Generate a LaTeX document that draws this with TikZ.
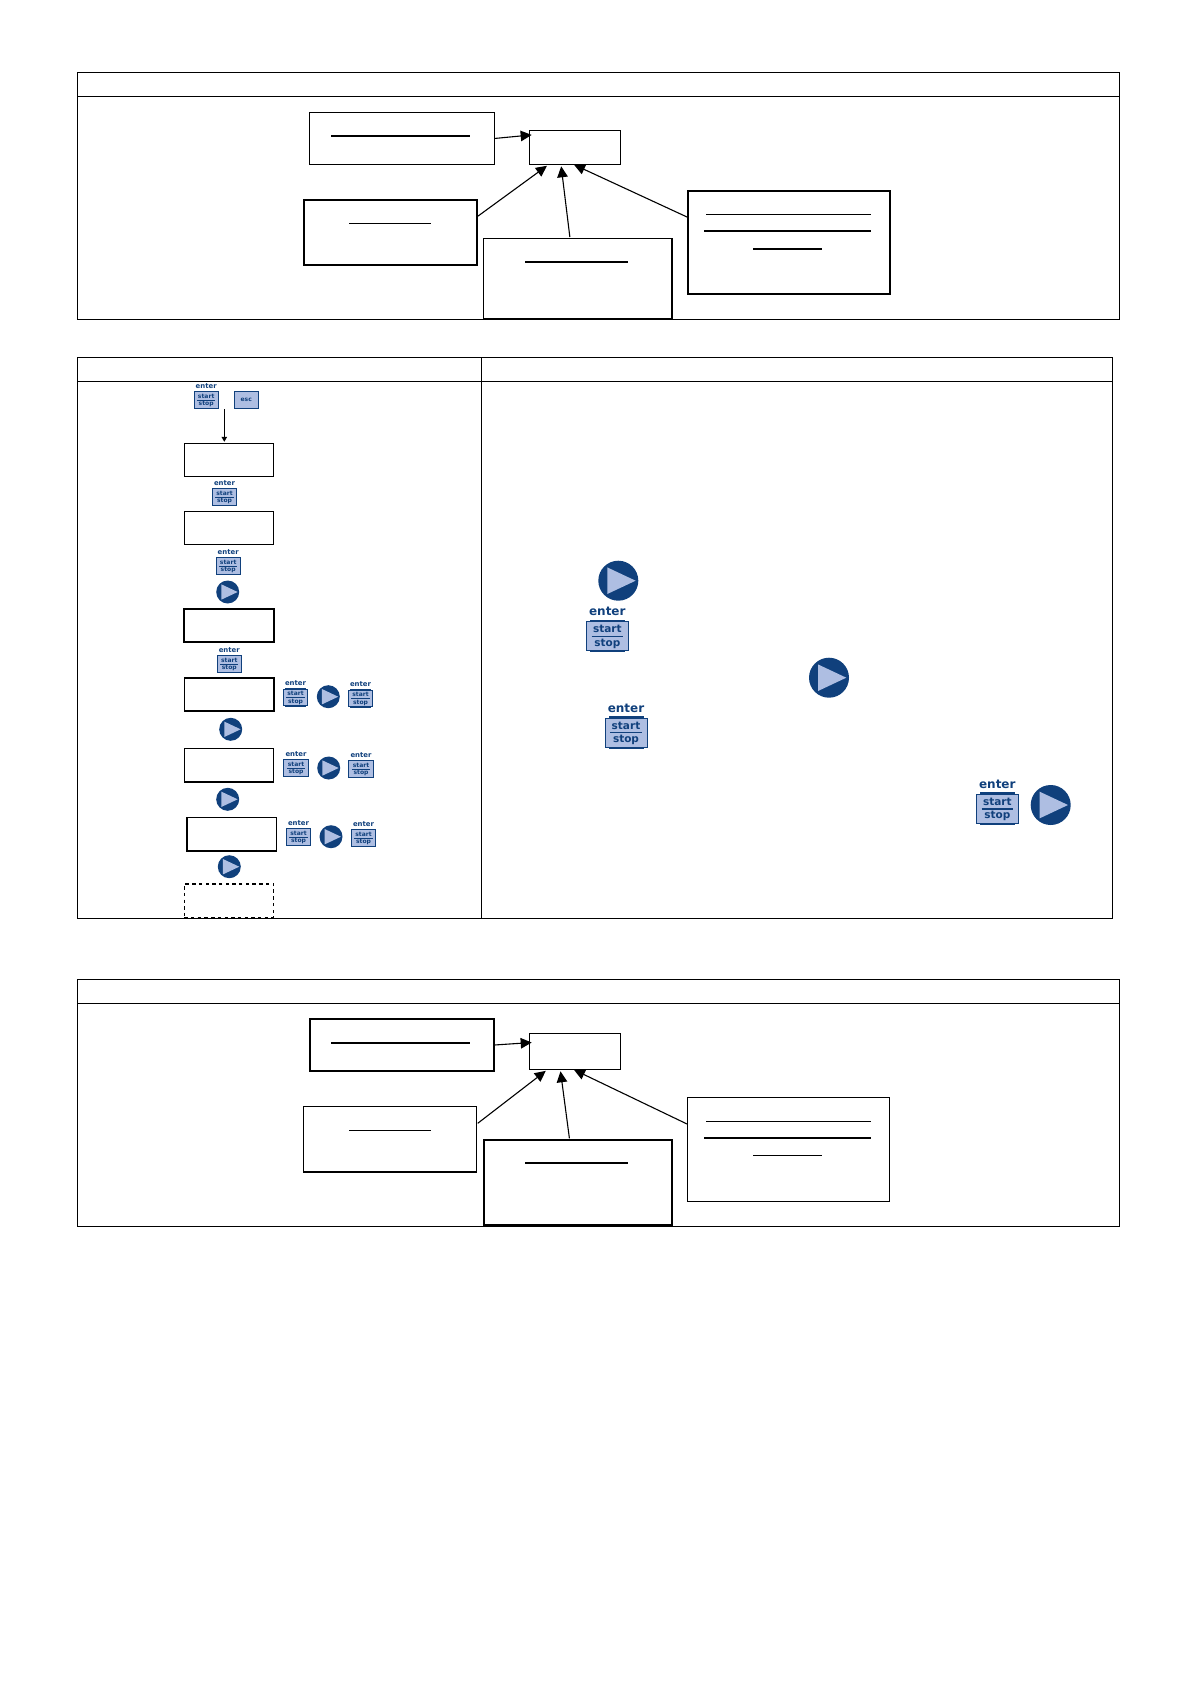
\documentclass[tikz,border=0pt]{standalone}
\usepackage{fontspec}
\setmainfont{DejaVu Sans}
\usetikzlibrary{arrows.meta, positioning}
\definecolor{KeyBlue}{HTML}{10407C}
\definecolor{KeyFill}{HTML}{AEBEE2}

\tikzset{
  cell/.style={rectangle, draw=black, line width=1pt, outer sep=0pt, inner sep=0pt},
  box/.style={rectangle, draw=black, line width=1.3pt, outer sep=0pt, inner sep=0pt},
  heavybox/.style={box, line width=1.8pt},
  disp/.style={box, minimum width=89.4pt, minimum height=33.4pt},
  arr/.style={-{Triangle[length=11pt, width=10.5pt]}, line width=1.1pt, black},
  smallarr/.style={-{Triangle[length=5pt, width=5.5pt]}, line width=1pt, black},
  thinbar/.style={line width=0.8pt, black},
  thickbar/.style={line width=1.8pt, black},
  keytext/.style={anchor=base, inner sep=0pt, text=KeyBlue, transform shape, font=\bfseries\fontsize{10.5}{10.5}\selectfont},
  keysmall/.style={scale=0.575},
  pics/startkey/.style={code={
    \node[rectangle, draw=KeyBlue, fill=KeyFill, line width=1pt, minimum width=42pt, minimum height=29pt, transform shape] (-body) at (0,0) {};
    \fill[KeyBlue] (-17.5,-16.4) rectangle (17.5,-14.5);
    \fill[KeyBlue] (-17.5,14.5) rectangle (17.5,16.4);
    \draw[KeyBlue, line width=1.3pt] (-15.7,0.3) -- (15.7,0.3);
    \node[keytext] (-enter) at (0,-20.3) {\fontsize{12}{12}\selectfont enter};
    \node[keytext] (-start) at (0,-3.3) {start};
    \node[keytext] (-stop) at (0,10) {stop};
  }},
  pics/esckey/.style={code={
    \node[rectangle, draw=KeyBlue, fill=KeyFill, line width=1pt, minimum width=42pt, minimum height=29pt, transform shape] (-body) at (0,0) {};
    \fill[KeyBlue] (-17.5,14.5) rectangle (17.5,16.4);
    \node[keytext] (-esc) at (0,3) {esc};
  }},
  pics/playkey/.style={code={
    \node[circle, fill=KeyBlue, minimum size=40pt, inner sep=0pt, transform shape] (-disc) at (0,0) {};
    \fill[KeyFill] (-11,-13.3) -- (17.3,0) -- (-11,13.3) -- cycle;
  }}
}

\begin{document}
\begin{tikzpicture}[x=1pt, y=-1pt]
  \useasboundingbox (0,0) rectangle (1190,1684);

  % Top table
  \node[cell, anchor=north west, minimum width=1042.4pt, minimum height=24pt] (headA) at (77.3,72.3) {};
  \node[cell, below=0pt of headA, minimum width=1042.4pt, minimum height=223pt] (bodyA) {};

  \node[box, minimum width=184.6pt, minimum height=51.6pt] (sourceA) at (402,138.5) {};
  \node[cell, minimum width=91pt, minimum height=34pt] (centreA) at (575.2,147.3) {};
  \node[heavybox, minimum width=173pt, minimum height=65.3pt] (leftA) at (390.2,232.3) {};
  \node[box, line width=1.5pt, minimum width=188.3pt, minimum height=80.7pt] (midA) at (577.85,278.65) {};
  \node[heavybox, minimum width=202pt, minimum height=103.6pt] (rightA) at (788.7,242.5) {};

  \draw[thickbar] (331,135.7) -- (470,135.7);
  \draw[thinbar] (349,223.3) -- (431,223.3);
  \draw[thickbar] (525,262) -- (628,262);
  \draw[thinbar] (706,214.3) -- (871,214.3);
  \draw[thickbar] (704,231) -- (871,231);
  \draw[thickbar] (753,249) -- (822,249);

  \draw[arr, shorten >=-2pt] (sourceA.east) -- (centreA.165);
  \draw[arr, shorten <=1.3pt, shorten >=2.5pt] (leftA.10) -- (centreA.213);
  \draw[arr, shorten <=1.3pt, shorten >=2pt] (midA.101) -- (centreA.230);
  \draw[arr, shorten >=1pt] (rightA.166) -- (centreA.263);

  % Middle table
  \node[cell, anchor=north west, minimum width=403.7pt, minimum height=24pt] (headB) at (77.3,357.3) {};
  \node[cell, right=0pt of headB, minimum width=631.5pt, minimum height=24pt] (headC) {};
  \node[cell, below=0pt of headB, minimum width=403.7pt, minimum height=537pt] (bodyB) {};
  \node[cell, below=0pt of headC, minimum width=631.5pt, minimum height=537pt] (bodyC) {};

  \node[disp] (disp1) at (229,460) {};
  \node[disp, below=34.6pt of disp1] (disp2) {};
  \node[disp, heavybox, below=64pt of disp2] (disp3) {};
  \node[disp, line width=1.6pt, below=35.7pt of disp3] (disp4) {};
  \node[disp, below=37.3pt of disp4] (disp5) {};
  \node[disp, line width=1.4pt, below=35.6pt of disp5, xshift=2.6pt] (disp6) {};
  \node[disp, dash pattern=on 3.4pt off 3.3pt, line width=1.3pt, below=33pt of disp6, xshift=-2.6pt] (disp7) {};

  \pic[keysmall] (key1) at (206.2,400) {startkey};
  \pic[keysmall] (esc1) at (246.2,400) {esckey};
  \coordinate (keytail) at (224.3,409);
  \draw[smallarr, shorten >=1.5pt] (keytail) -- (keytail |- disp1.north);

  \pic[keysmall] (key2) at (224.5,497) {startkey};
  \pic[keysmall] (key3) at (228.2,566) {startkey};
  \pic[keysmall] (play1) at (227.7,592) {playkey};
  \pic[keysmall] (key4) at (229.3,664) {startkey};

  \pic[keysmall] (key5) at (295.5,697.5) {startkey};
  \pic[keysmall] (play2) at (328.3,696.7) {playkey};
  \pic[keysmall] (key6) at (360.5,698.5) {startkey};
  \pic[keysmall] (play3) at (230.7,729.3) {playkey};

  \pic[keysmall] (key7) at (296,768) {startkey};
  \pic[keysmall] (play4) at (328.7,768) {playkey};
  \pic[keysmall] (key8) at (361,769) {startkey};
  \pic[keysmall] (play5) at (227.7,799.3) {playkey};

  \pic[keysmall] (key9) at (298.5,837) {startkey};
  \pic[keysmall] (play6) at (331,836.7) {playkey};
  \pic[keysmall] (key10) at (363.5,838) {startkey};
  \pic[keysmall] (play7) at (229.3,866.7) {playkey};

  \pic (play8) at (618.3,580.7) {playkey};
  \pic (key11) at (607.3,636) {startkey};
  \pic (play9) at (829,677.7) {playkey};
  \pic (key12) at (626,732.5) {startkey};
  \pic (key13) at (997.3,808.8) {startkey};
  \pic (play10) at (1050.7,805) {playkey};

  % Bottom table
  \node[cell, anchor=north west, minimum width=1042.4pt, minimum height=24pt] (headD) at (77.3,979.3) {};
  \node[cell, below=0pt of headD, minimum width=1042.4pt, minimum height=222.7pt] (bodyD) {};

  \node[heavybox, minimum width=184.6pt, minimum height=52pt] (sourceD) at (402,1045) {};
  \node[box, minimum width=91pt, minimum height=35.6pt] (centreD) at (575.2,1051.5) {};
  \node[box, minimum width=173pt, minimum height=65.3pt] (leftD) at (390.2,1139.35) {};
  \node[heavybox, minimum width=188.3pt, minimum height=85pt] (midD) at (577.85,1182.2) {};
  \node[box, line width=1.5pt, minimum width=202pt, minimum height=103.6pt] (rightD) at (788.7,1149.5) {};

  \draw[thickbar] (331,1043) -- (470,1043);
  \draw[thinbar] (349,1130.3) -- (431,1130.3);
  \draw[thickbar] (525,1162.7) -- (628,1162.7);
  \draw[thinbar] (706,1121.3) -- (871,1121.3);
  \draw[thickbar] (704,1138) -- (871,1138);
  \draw[thinbar] (753,1155.3) -- (822,1155.3);

  \draw[arr, shorten >=-2pt] (sourceD.east) -- (centreD.169);
  \draw[arr, shorten <=1.3pt, shorten >=2.5pt] (leftD.10) -- (centreD.213);
  \draw[arr, shorten <=1.3pt, shorten >=2pt] (midD.101) -- (centreD.230);
  \draw[arr, shorten >=1pt] (rightD.166) -- (centreD.263);
\end{tikzpicture}
\end{document}
